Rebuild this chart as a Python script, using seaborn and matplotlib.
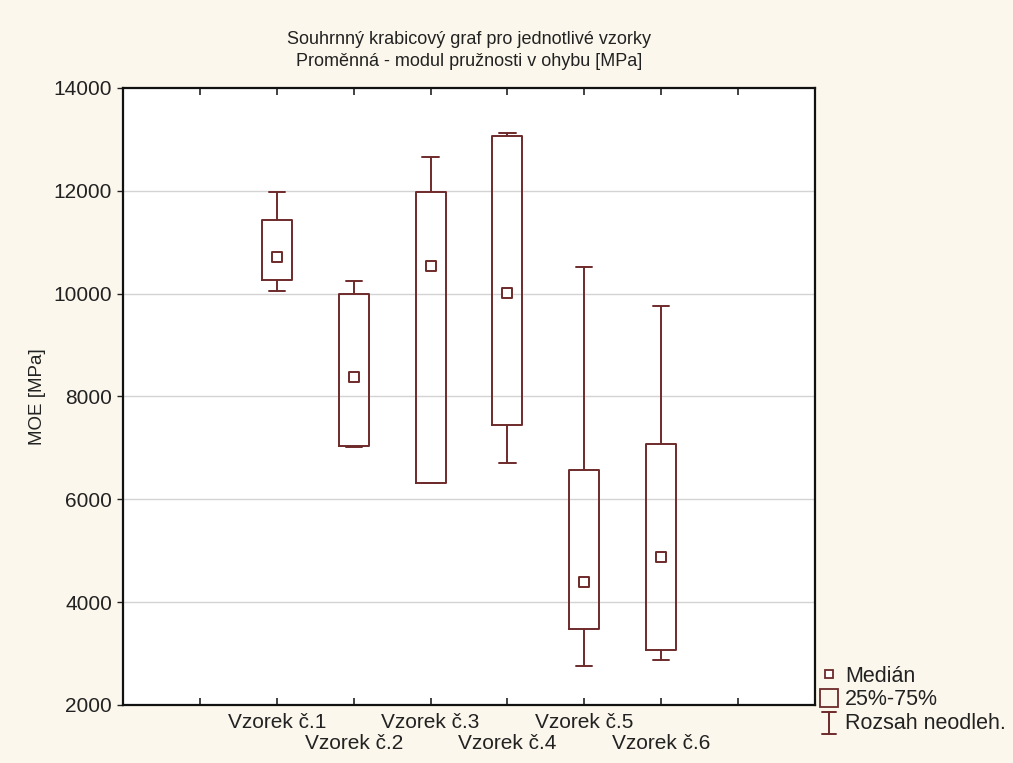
import numpy as np
import pandas as pd
import matplotlib
matplotlib.use("Agg")
import matplotlib.pyplot as plt
import seaborn as sns
from matplotlib.lines import Line2D
from matplotlib.patches import Patch
from matplotlib.legend_handler import HandlerBase

# ---- data ----
samples = ["Vzorek č.1", "Vzorek č.2", "Vzorek č.3", "Vzorek č.4", "Vzorek č.5", "Vzorek č.6"]
minimum = [10060, 7010, 6310, 6700, 2750, 2880]
q1 = [10260, 7030, 6310, 7440, 3470, 3070]
median = [10720, 8370, 10530, 10010, 4390, 4870]
q3 = [11440, 10000, 11975, 13075, 6575, 7085]
maximum = [11975, 10255, 12650, 13130, 10520, 9760]

title_lines = ["Souhrnný krabicový graf pro jednotlivé vzorky",
               "Proměnná - modul pružnosti v ohybu [MPa]"]
y_label = "MOE [MPa]"
y_ticks = [2000, 4000, 6000, 8000, 10000, 12000, 14000]
legend_labels = ["Medián", "25%-75%", "Rozsah neodleh."]

# five-number table: with exactly five values per group, seaborn's quartiles
# and (0,100) whiskers reproduce min / q1 / median / q3 / max exactly
rows = []
for s, a, b, c, d, e in zip(samples, minimum, q1, median, q3, maximum):
    for v in (a, b, c, d, e):
        rows.append({"sample": s, "MOE": v})
df = pd.DataFrame(rows)

# ---- style ----
sns.set_theme(style="white")
plt.rcParams["font.family"] = ["Liberation Sans", "DejaVu Sans"]
BG = "#FBF7EC"
COL = "#6E2A2A"
TXT = "#222222"
FS_TICK = 15
FS_TITLE = 13
FS_LAB = 13.5
FS_LEG = 15.5

fig = plt.figure(figsize=(10.13, 7.63), dpi=100, facecolor=BG)
ax = fig.add_axes([123 / 1013, 1 - 705 / 763, (815 - 123) / 1013, (705 - 88) / 763])
ax.set_facecolor("white")

sns.boxplot(data=df, x="sample", y="MOE", order=samples, whis=(0, 100), width=0.39,
            fill=False, color=COL, linecolor=COL, linewidth=1.4, showfliers=False,
            medianprops={"linewidth": 0, "alpha": 0},
            capwidths=0.21, ax=ax)

sns.scatterplot(x=samples, y=median, marker="s", s=45, color="white",
                edgecolor=COL, linewidth=1.4, zorder=5, ax=ax, legend=False)

ax.set_xlim(-2, 7)
ax.set_ylim(2000, 14000)
ax.set_yticks(y_ticks)
ax.set_yticklabels([str(t) for t in y_ticks], fontsize=FS_TICK, color=TXT)

# staggered category labels: odd samples on major ticks, even ones on minor ticks
major_pos = [-1, 0, 2, 4, 6]
major_lab = [""] + [samples[i] for i in (0, 2, 4)] + [""]
minor_pos = [1, 3, 5]
minor_lab = [samples[i] for i in (1, 3, 5)]
ax.set_xticks(major_pos)
ax.set_xticklabels(major_lab, fontsize=FS_TICK, color=TXT)
ax.set_xticks(minor_pos, minor=True)
ax.set_xticklabels(minor_lab, minor=True, fontsize=FS_TICK, color=TXT)
ax.tick_params(axis="x", which="both", direction="in", top=True, bottom=True, length=5,
               width=1.2, color=TXT)
ax.tick_params(axis="x", which="major", pad=6)
ax.tick_params(axis="x", which="minor", pad=21)
ax.tick_params(axis="y", direction="out", left=True, length=4, width=1, color=TXT, pad=4)
ax.set_xlabel("")
ax.set_ylabel(y_label, fontsize=FS_LAB, color=TXT, labelpad=5)

for yv in y_ticks[1:-1]:
    ax.axhline(yv, color="#D3D3D3", linewidth=1, zorder=0)
for sp in ax.spines.values():
    sp.set_color("#111111")
    sp.set_linewidth(1.6)

fig.text(469 / 1013, 1 - 31 / 763, title_lines[0] + "\n" + title_lines[1],
         ha="center", va="top", fontsize=FS_TITLE, color=TXT, linespacing=1.4)

# ---- legend ----
class IBeamHandler(HandlerBase):
    def create_artists(self, legend, orig_handle, xdescent, ydescent, width, height, fontsize, trans):
        cx = -xdescent + width / 2
        y0 = -ydescent - 0.2 * height
        y1 = -ydescent + 1.05 * height
        hw = width * 0.38
        kw = dict(color=COL, linewidth=1.4, transform=trans)
        return [Line2D([cx, cx], [y0, y1], **kw),
                Line2D([cx - hw, cx + hw], [y0, y0], **kw),
                Line2D([cx - hw, cx + hw], [y1, y1], **kw)]

h_med = Line2D([], [], linestyle="none", marker="s", markersize=5.5, markerfacecolor="white",
               markeredgecolor=COL, markeredgewidth=1.3)
h_box = Patch(facecolor="none", edgecolor=COL, linewidth=1.3)
h_rng = Line2D([], [])
fig.legend([h_med, h_box, h_rng], legend_labels, loc="lower left",
           bbox_to_anchor=(820 / 1013, 1 - 734 / 763), bbox_transform=fig.transFigure,
           frameon=False, fontsize=FS_LEG, handlelength=0.85, handleheight=0.85,
           handletextpad=0.3, labelspacing=0.12, borderpad=0, borderaxespad=0,
           handler_map={h_rng: IBeamHandler()}, labelcolor=TXT)

fig.savefig("out.png", dpi=100, facecolor=BG)
